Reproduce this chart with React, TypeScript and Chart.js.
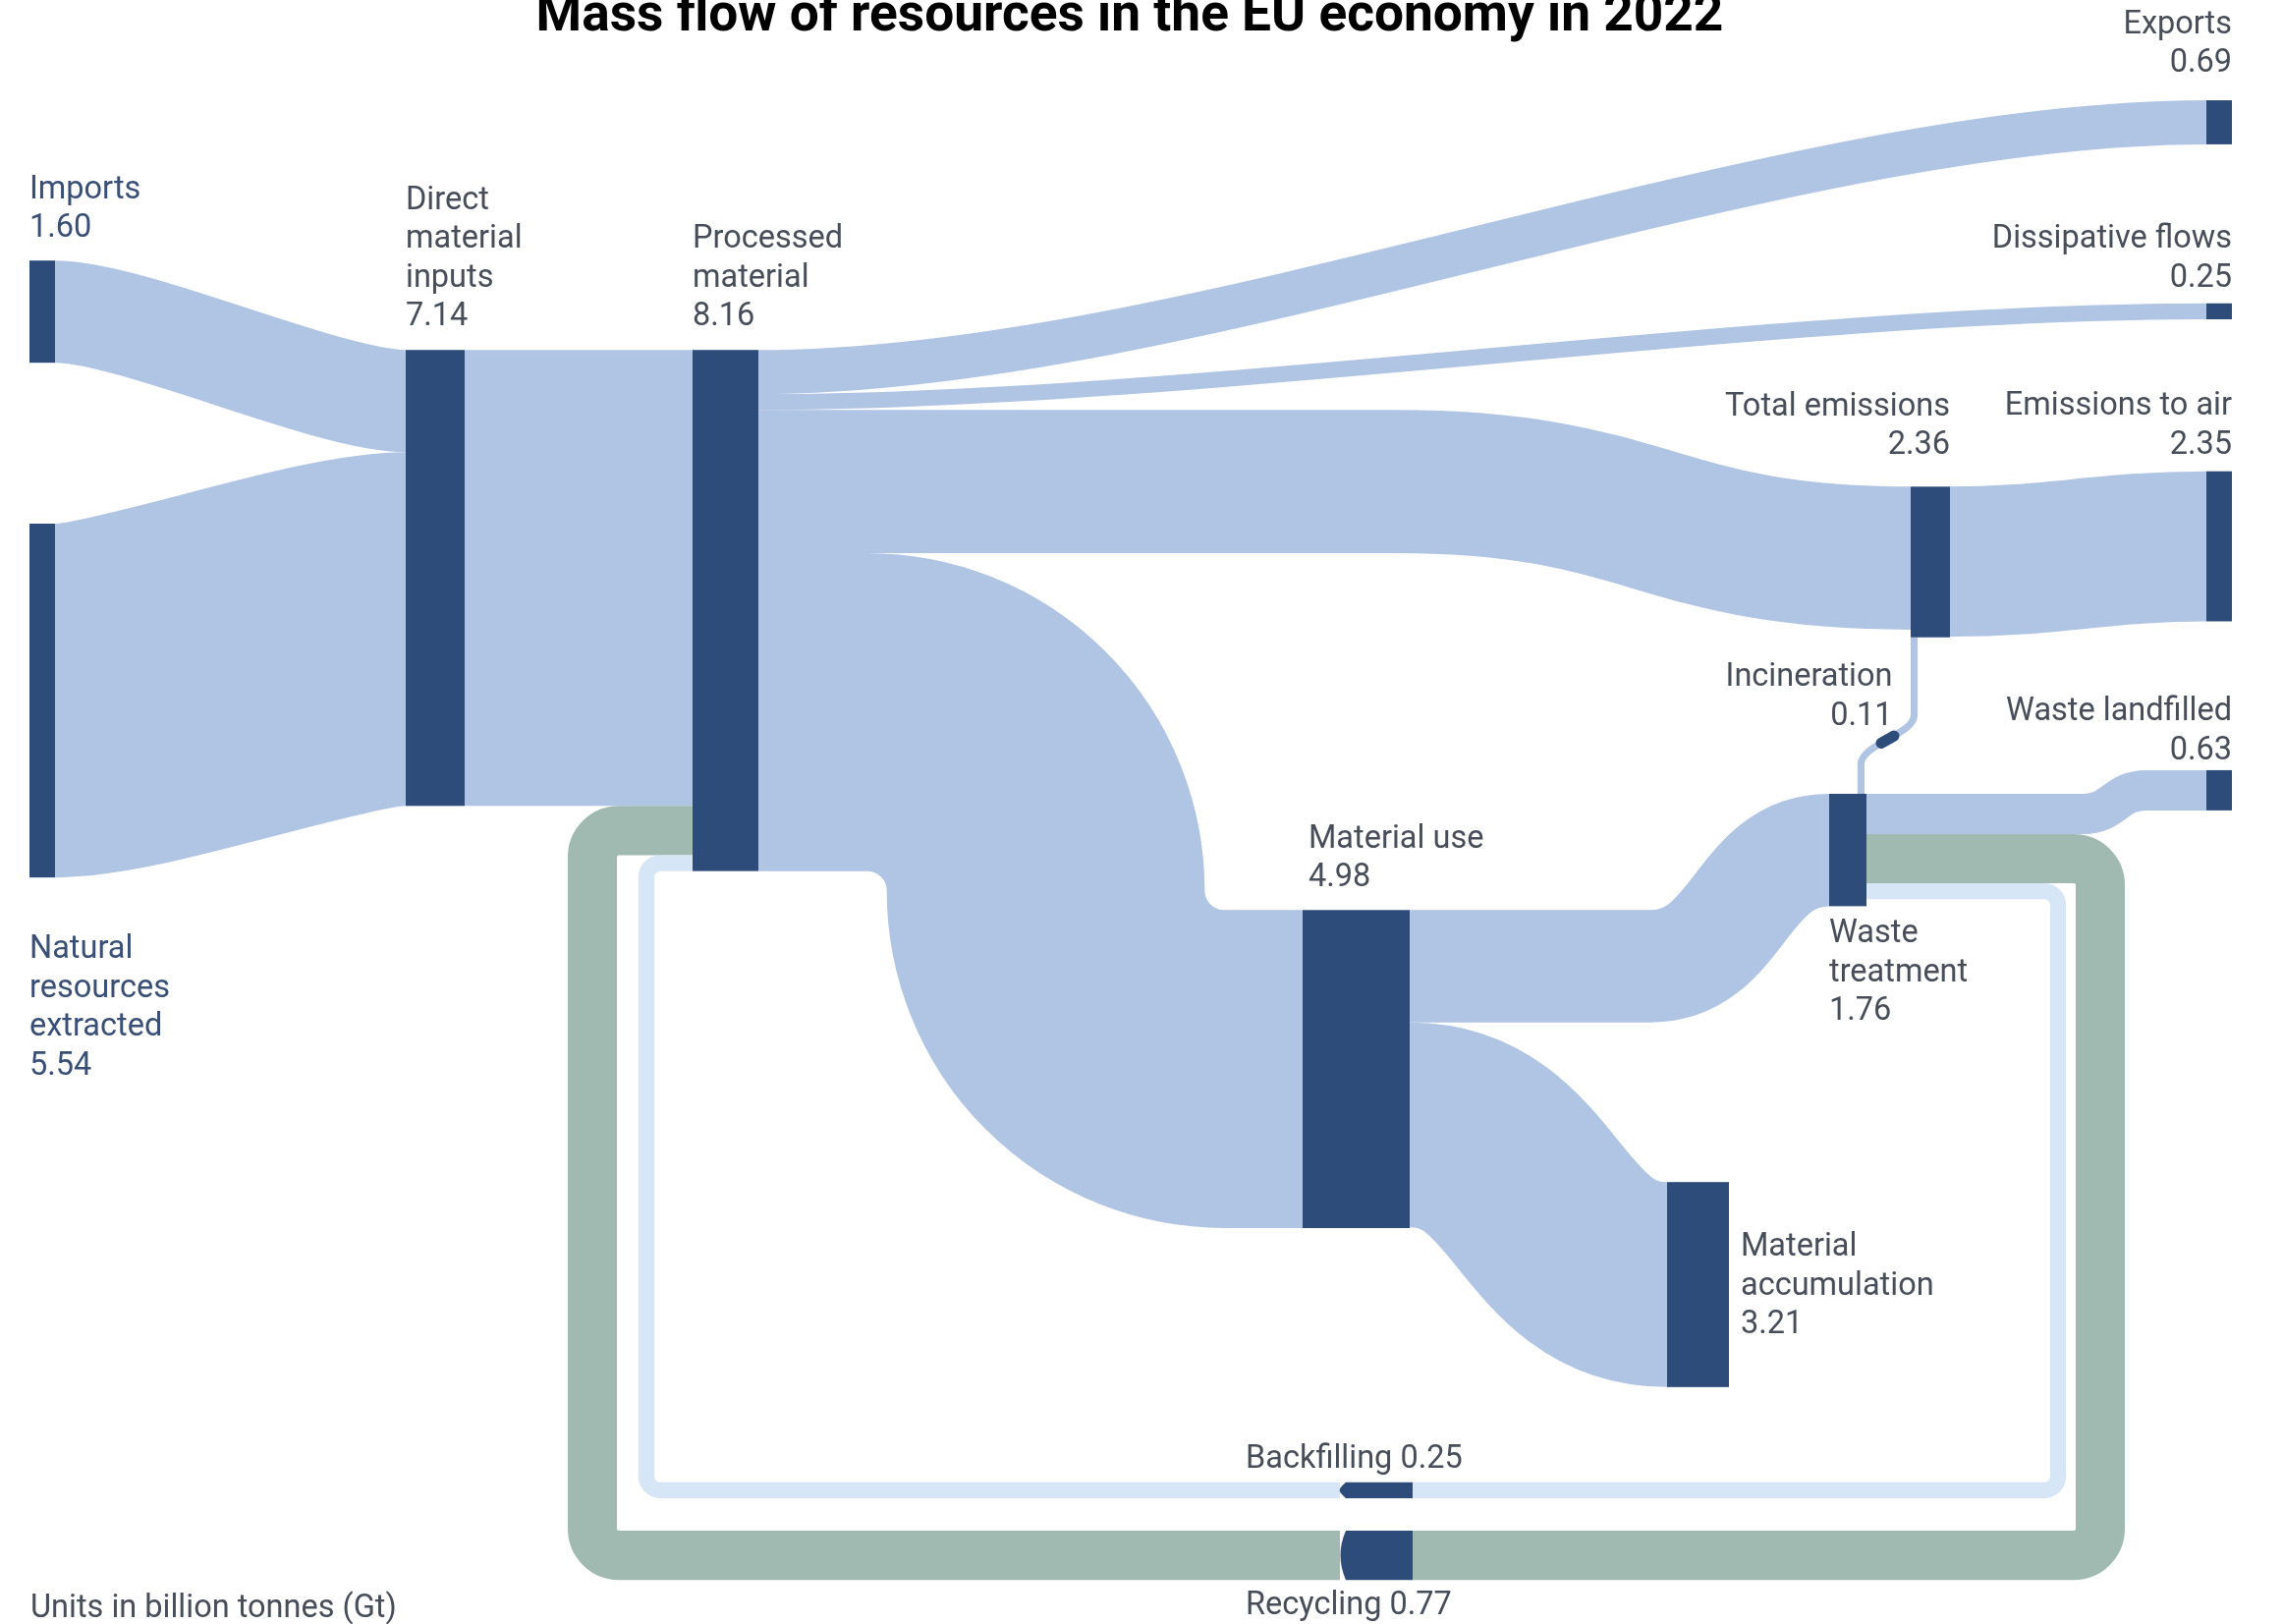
import React, { useEffect, useRef } from 'react';
import { Chart, registerables } from 'chart.js';

Chart.register(...registerables);

// ---------------- data ----------------
const TITLE = 'Mass flow of resources in the EU economy in 2022';
const UNITS_NOTE = 'Units in billion tonnes (Gt)';

const NODE_NAMES = [
  'Imports',
  'Natural\nresources\nextracted',
  'Direct\nmaterial\ninputs',
  'Processed\nmaterial',
  'Exports',
  'Dissipative flows',
  'Total emissions',
  'Emissions to air',
  'Material use',
  'Material\naccumulation',
  'Waste\ntreatment',
  'Waste landfilled',
  'Incineration',
  'Recycling',
  'Backfilling',
];
const NODE_VALUES = [1.6, 5.54, 7.14, 8.16, 0.69, 0.25, 2.36, 2.35, 4.98, 3.21, 1.76, 0.63, 0.11, 0.77, 0.25];

const LINK_SOURCES = [0, 1, 2, 3, 3, 3, 3, 8, 8, 10, 10, 12, 10, 13, 10, 14, 6];
const LINK_TARGETS = [2, 2, 3, 4, 5, 6, 8, 10, 9, 11, 12, 6, 13, 3, 14, 3, 7];
const LINK_VALUES = [1.6, 5.54, 7.14, 0.69, 0.25, 2.24, 4.98, 1.76, 3.21, 0.63, 0.11, 0.11, 0.77, 0.77, 0.25, 0.25, 2.35];

// ---------------- layout (axis units: x = layout units, y = Gt from top) ----------------
const W = 2324;
const H = 1653;
const Y_MAX_GT = 25.43;

const NODE_X = [
  [30, 56], [30, 56], [413, 473], [705, 772], [2246, 2272], [2246, 2272], [1945, 1985], [2246, 2272],
  [1326, 1435], [1697, 1760], [1862, 1900], [2246, 2272], [0, 0], [1364, 1438], [1364, 1438],
];
const NODE_TOP = [4.08, 8.2, 5.48, 5.48, 1.57, 4.75, 7.62, 7.38, 14.25, 18.51, 12.43, 12.06, 11.58, 23.97, 23.21];
const REVERSED_NODES = [13, 14];
const PATH_NODE = 12;

type Route = { kind: 'curve' | 'ortho' | 'riser'; leadOut?: number; leadIn?: number; curv?: number; steps?: number[]; radius?: number; style?: string };
const LINK_ROUTES: Route[] = [
  { kind: 'curve', curv: 0.22 },
  { kind: 'curve', curv: 0.22 },
  { kind: 'curve' },
  { kind: 'curve', curv: 0.3 },
  { kind: 'curve', curv: 0.3 },
  { kind: 'curve', leadOut: 648, curv: 0.5 },
  { kind: 'ortho', steps: [1064.5] },
  { kind: 'curve', leadOut: 245, curv: 0.5 },
  { kind: 'curve', curv: 0.5 },
  { kind: 'curve', leadOut: 220, leadIn: 61, curv: 0.5 },
  { kind: 'riser' },
  { kind: 'riser' },
  { kind: 'ortho', steps: [2138], radius: 27, style: 'recycle' },
  { kind: 'ortho', steps: [603], radius: 27, style: 'recycle' },
  { kind: 'ortho', steps: [2095], radius: 14, style: 'backfill' },
  { kind: 'ortho', steps: [658], radius: 14, style: 'backfill' },
  { kind: 'curve', curv: 0.4 },
];

type LabelPos = { side: 'above' | 'below' | 'right'; align: 'left' | 'right'; anchor: 'x0' | 'x1' | 'cx'; dx: number; gap: number; inline?: boolean };
const LABEL_POS: LabelPos[] = [
  { side: 'above', align: 'left', anchor: 'x0', dx: 0, gap: 24 },
  { side: 'below', align: 'left', anchor: 'x0', dx: 0, gap: 82 },
  { side: 'above', align: 'left', anchor: 'x0', dx: 0, gap: 25 },
  { side: 'above', align: 'left', anchor: 'x0', dx: 0, gap: 25 },
  { side: 'above', align: 'right', anchor: 'x1', dx: 0, gap: 29 },
  { side: 'above', align: 'right', anchor: 'x1', dx: 0, gap: 17 },
  { side: 'above', align: 'right', anchor: 'x1', dx: 0, gap: 33 },
  { side: 'above', align: 'right', anchor: 'x1', dx: 0, gap: 18 },
  { side: 'above', align: 'left', anchor: 'x0', dx: 6, gap: 24 },
  { side: 'right', align: 'left', anchor: 'x1', dx: 12, gap: 10 },
  { side: 'below', align: 'left', anchor: 'x0', dx: 0, gap: 37 },
  { side: 'above', align: 'right', anchor: 'x1', dx: 0, gap: 11 },
  { side: 'above', align: 'right', anchor: 'cx', dx: 5, gap: 15 },
  { side: 'below', align: 'left', anchor: 'x0', dx: -96, gap: 35, inline: true },
  { side: 'above', align: 'left', anchor: 'x0', dx: -96, gap: 15, inline: true },
];

// ---------------- styles ----------------
const NODE_COLOR = '#2d4c7a';
const LINK_COLOR = '#b0c4e3';
const RECYCLE_COLOR = '#a1bab1';
const BACKFILL_COLOR = '#d6e6f6';
const TEXT_COLOR = '#474d59';
const TEXT_BLUE = '#3a4f75';
const FONT = 'Roboto, "Noto Sans", sans-serif';
const FS = 32.5;
const LH = 39.5;

function strokeOrtho(ctx: CanvasRenderingContext2D, raw: number[][], maxR: number) {
  const pts: number[][] = [];
  raw.forEach((p) => {
    const l = pts[pts.length - 1];
    if (!l || Math.hypot(l[0] - p[0], l[1] - p[1]) > 0.01) pts.push(p);
  });
  const n = pts.length;
  ctx.beginPath();
  ctx.moveTo(pts[0][0], pts[0][1]);
  for (let i = 1; i < n - 1; i++) {
    const a = pts[i - 1], b = pts[i], c = pts[i + 1];
    const l1 = Math.hypot(b[0] - a[0], b[1] - a[1]);
    const l2 = Math.hypot(c[0] - b[0], c[1] - b[1]);
    const av1 = i - 1 === 0 ? l1 : l1 / 2;
    const av2 = i + 1 === n - 1 ? l2 : l2 / 2;
    ctx.arcTo(b[0], b[1], c[0], c[1], Math.min(maxR, av1, av2));
  }
  ctx.lineTo(pts[n - 1][0], pts[n - 1][1]);
  ctx.stroke();
}

function cubicPt(P: number[][], t: number) {
  const u = 1 - t;
  return [
    u * u * u * P[0][0] + 3 * u * u * t * P[1][0] + 3 * u * t * t * P[2][0] + t * t * t * P[3][0],
    u * u * u * P[0][1] + 3 * u * u * t * P[1][1] + 3 * u * t * t * P[2][1] + t * t * t * P[3][1],
  ];
}

const sankeyPlugin = {
  id: 'sankeyPlugin',
  afterDraw(chart: any) {
    const { ctx } = chart;
    const xs = chart.scales.x;
    const ys = chart.scales.y;
    const px = (v: number) => xs.getPixelForValue(v);
    const py = (v: number) => ys.getPixelForValue(v);
    const thick = (v: number) => Math.abs(py(v) - py(0));
    const dxp = (d: number) => px(d) - px(0);

    const nodes = NODE_VALUES.map((v, i) => ({
      x0: px(NODE_X[i][0]),
      x1: px(NODE_X[i][1]),
      top: NODE_TOP[i],
      val: v,
      yT: py(NODE_TOP[i]),
      yB: py(NODE_TOP[i] + v),
    }));

    const offs: Record<string, number> = {};
    const take = (n: number, side: string, v: number) => {
      const k = n + side;
      const o = offs[k] || 0;
      offs[k] = o + v;
      return nodes[n].top + o + v / 2;
    };

    // incineration riser geometry
    const riserW = thick(LINK_VALUES[10]);
    const wt = nodes[LINK_SOURCES[10]];
    const te = nodes[LINK_TARGETS[11]];
    const rxs = wt.x1 - riserW / 2 - 2;
    const rys = wt.yT;
    const rxt = te.x0 + riserW / 2;
    const ryt = te.yB;
    const ryc = py(NODE_TOP[PATH_NODE]);
    const hh = 25;
    const S = [
      [rxs, ryc + hh],
      [rxs, ryc + hh - 0.8 * hh],
      [rxt, ryc - hh + 0.8 * hh],
      [rxt, ryc - hh],
    ];
    const mid = (a: number[], b: number[]) => [(a[0] + b[0]) / 2, (a[1] + b[1]) / 2];
    const P01 = mid(S[0], S[1]), P12 = mid(S[1], S[2]), P23 = mid(S[2], S[3]);
    const P012 = mid(P01, P12), P123 = mid(P12, P23), M = mid(P012, P123);

    ctx.save();
    ctx.lineCap = 'butt';
    ctx.lineJoin = 'miter';

    LINK_VALUES.forEach((v, i) => {
      const s = LINK_SOURCES[i];
      const t = LINK_TARGETS[i];
      const r = LINK_ROUTES[i];
      const w = thick(v);
      ctx.lineWidth = w;
      ctx.strokeStyle = r.style === 'recycle' ? RECYCLE_COLOR : r.style === 'backfill' ? BACKFILL_COLOR : LINK_COLOR;

      if (r.kind === 'riser') {
        ctx.beginPath();
        if (s !== PATH_NODE) {
          ctx.moveTo(rxs, rys);
          ctx.lineTo(S[0][0], S[0][1]);
          ctx.bezierCurveTo(P01[0], P01[1], P012[0], P012[1], M[0], M[1]);
        } else {
          ctx.moveTo(M[0], M[1]);
          ctx.bezierCurveTo(P123[0], P123[1], P23[0], P23[1], S[3][0], S[3][1]);
          ctx.lineTo(rxt, ryt);
        }
        ctx.stroke();
        return;
      }

      const srcRev = REVERSED_NODES.includes(s);
      const tgtRev = REVERSED_NODES.includes(t);
      const sx = srcRev ? nodes[s].x0 : nodes[s].x1;
      const sy = py(take(s, srcRev ? 'Lout' : 'Rout', v));
      const tx = tgtRev ? nodes[t].x1 : nodes[t].x0;
      const ty = py(take(t, tgtRev ? 'Rin' : 'Lin', v));

      if (r.kind === 'curve') {
        const lo = r.leadOut ? dxp(r.leadOut) : 0;
        const li = r.leadIn ? dxp(r.leadIn) : 0;
        const xa = sx + lo;
        const xb = tx - li;
        const m = (xb - xa) * (r.curv ?? 0.5);
        ctx.beginPath();
        ctx.moveTo(sx, sy);
        if (lo) ctx.lineTo(xa, sy);
        ctx.bezierCurveTo(xa + m, sy, xb - m, ty, xb, ty);
        if (li) ctx.lineTo(tx, ty);
        ctx.stroke();
      } else {
        const pts: number[][] = [[sx, sy]];
        let cx = sx;
        (r.steps || []).forEach((stepX) => {
          cx = px(stepX);
          pts.push([cx, sy]);
        });
        pts.push([cx, ty]);
        pts.push([tx, ty]);
        strokeOrtho(ctx, pts, r.radius ?? Infinity);
      }
    });

    // nodes
    ctx.fillStyle = NODE_COLOR;
    nodes.forEach((n, i) => {
      if (i === PATH_NODE) return;
      const h = n.yB - n.yT;
      if (REVERSED_NODES.includes(i)) {
        const ym = (n.yT + n.yB) / 2;
        ctx.beginPath();
        ctx.moveTo(n.x1, n.yT);
        ctx.lineTo(n.x0 + 6, n.yT);
        if (h > 30) ctx.quadraticCurveTo(n.x0 - 5, ym, n.x0 + 6, n.yB);
        else {
          ctx.quadraticCurveTo(n.x0 - 2, ym - 1, n.x0, ym);
          ctx.quadraticCurveTo(n.x0 - 2, ym + 1, n.x0 + 6, n.yB);
        }
        ctx.lineTo(n.x1, n.yB);
        ctx.closePath();
        ctx.fill();
      } else {
        ctx.fillRect(n.x0, n.yT, n.x1 - n.x0, h);
      }
    });
    // incineration node on the riser
    ctx.strokeStyle = NODE_COLOR;
    ctx.lineWidth = riserW + 4;
    ctx.lineCap = 'round';
    ctx.beginPath();
    for (let k = 0; k <= 12; k++) {
      const p = cubicPt(S, 0.42 + (0.16 * k) / 12);
      if (k === 0) ctx.moveTo(p[0], p[1]);
      else ctx.lineTo(p[0], p[1]);
    }
    ctx.stroke();

    // labels
    ctx.font = `${FS}px ${FONT}`;
    ctx.textBaseline = 'alphabetic';
    nodes.forEach((n, i) => {
      const lp = LABEL_POS[i];
      const value = NODE_VALUES[i].toFixed(2);
      const lines = lp.inline ? [NODE_NAMES[i] + ' ' + value] : [...NODE_NAMES[i].split('\n'), value];
      const cxn = i === PATH_NODE ? M[0] : (n.x0 + n.x1) / 2;
      const ax = (lp.anchor === 'x0' ? n.x0 : lp.anchor === 'x1' ? n.x1 : cxn) + lp.dx;
      const yTop = i === PATH_NODE ? ryc : n.yT;
      let first: number;
      if (lp.side === 'above') first = yTop - lp.gap - (lines.length - 1) * LH;
      else if (lp.side === 'below') first = n.yB + lp.gap;
      else first = (n.yT + n.yB) / 2 + lp.gap - ((lines.length - 1) / 2) * LH;
      ctx.textAlign = lp.align;
      ctx.fillStyle = i <= 1 ? TEXT_BLUE : TEXT_COLOR;
      lines.forEach((ln, k) => ctx.fillText(ln, ax, first + k * LH));
    });

    // units note
    ctx.textAlign = 'left';
    ctx.fillStyle = TEXT_COLOR;
    ctx.fillText(UNITS_NOTE, px(31), 1646);

    // title
    ctx.font = `bold 50px ${FONT}`;
    const mw = ctx.measureText(TITLE).width;
    const fs = Math.max(42, Math.min(56, (50 * 1209) / mw));
    ctx.font = `bold ${fs}px ${FONT}`;
    ctx.fillStyle = '#000000';
    ctx.textAlign = 'center';
    ctx.fillText(TITLE, px(1150), 31);
    ctx.restore();
  },
};

export default function App() {
  const ref = useRef<HTMLCanvasElement>(null);
  useEffect(() => {
    const canvas = ref.current;
    if (!canvas) return;
    const chart = new Chart(canvas, {
      type: 'scatter',
      data: { datasets: [{ data: [], pointRadius: 0 }] },
      options: {
        animation: false,
        responsive: false,
        devicePixelRatio: 1,
        events: [],
        layout: { padding: 0 },
        scales: {
          x: { type: 'linear', min: 0, max: W, display: false },
          y: { type: 'linear', min: 0, max: Y_MAX_GT, reverse: true, display: false },
        },
        plugins: { legend: { display: false }, tooltip: { enabled: false }, title: { display: false } },
      },
      plugins: [sankeyPlugin],
    } as any);
    return () => chart.destroy();
  }, []);
  return (
    <div style={{ position: 'fixed', left: 0, top: 0, width: W, height: H, background: '#ffffff' }}>
      <canvas ref={ref} width={W} height={H} style={{ width: W, height: H, display: 'block' }} />
    </div>
  );
}
